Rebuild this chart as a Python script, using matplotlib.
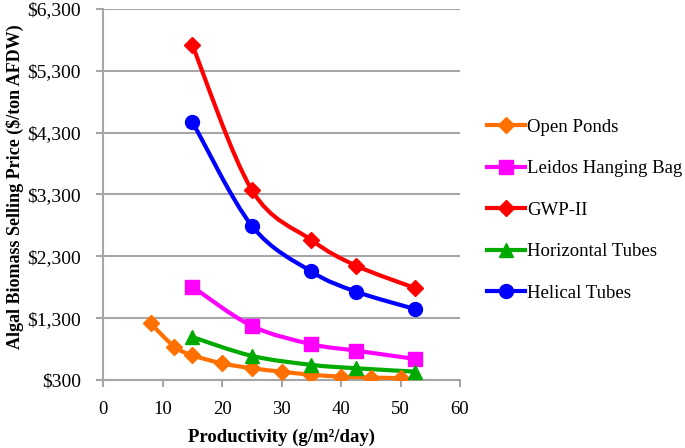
import numpy as np
import matplotlib
matplotlib.use("Agg")
import matplotlib.pyplot as plt
from matplotlib.path import Path
from matplotlib.patches import PathPatch
from matplotlib.lines import Line2D
from matplotlib.ticker import FuncFormatter

# Values
open_ponds_x = [8, 12, 15, 20, 25, 30, 35, 40, 45, 50]
open_ponds_y = [1215, 840, 700, 570, 490, 435, 385, 355, 340, 330]

tubes_x = [15, 25, 35, 42.5, 52.5]
leidos_y = [1810, 1175, 880, 775, 640]
gwp_y = [5720, 3375, 2565, 2150, 1785]
horizontal_y = [995, 690, 545, 490, 435]
helical_y = [4480, 2795, 2055, 1730, 1445]

series = [
    ("Open Ponds", open_ponds_x, open_ponds_y, "#FF7000", "D", 8),
    ("Leidos Hanging Bag", tubes_x, leidos_y, "#FF00FF", "s", 10),
    ("GWP-II", tubes_x, gwp_y, "#FF0000", "D", 8),
    ("Horizontal Tubes", tubes_x, horizontal_y, "#00AA00", "^", 10.5),
    ("Helical Tubes", tubes_x, helical_y, "#0000FF", "o", 10),
]

plt.rcParams["font.family"] = ["Liberation Serif", "DejaVu Serif"]
plt.rcParams["font.size"] = 13.5


def smooth_path(xs, ys):
    # Excel-style smoothed line: cubic Bezier segments with Catmull-Rom control points
    pts = np.column_stack([xs, ys]).astype(float)
    verts = [pts[0]]
    codes = [Path.MOVETO]
    n = len(pts)
    for i in range(n - 1):
        p0 = pts[i - 1] if i > 0 else pts[i]
        p1 = pts[i]
        p2 = pts[i + 1]
        p3 = pts[i + 2] if i + 2 < n else pts[i + 1]
        c1 = p1 + (p2 - p0) / 6.0
        c2 = p2 - (p3 - p1) / 6.0
        verts += [c1, c2, p2]
        codes += [Path.CURVE4] * 3
    return Path(verts, codes)


fig = plt.figure(figsize=(6.85, 4.48), dpi=100)
ax = fig.add_axes([103 / 685, 1 - 380 / 448, 357 / 685, 371 / 448])

grey = "#A6A6A6"
handles = []
for name, xs, ys, color, marker, ms in series:
    ax.add_patch(PathPatch(smooth_path(xs, ys), facecolor="none", edgecolor=color,
                           lw=3, zorder=3, capstyle="round", joinstyle="round"))
    ax.plot(xs, ys, linestyle="none", marker=marker, markersize=ms, color=color, zorder=4)
    handles.append(Line2D([], [], color=color, lw=3, marker=marker, markersize=ms))

ax.set_xlim(0, 60)
ax.set_ylim(300, 6300)
ax.set_xticks(range(0, 61, 10))
ax.set_yticks(range(300, 6301, 1000))
ax.yaxis.set_major_formatter(FuncFormatter(lambda v, p: "${:,.0f}".format(v)))
ax.grid(axis="y", color=grey, lw=1.5)
ax.set_axisbelow(True)

for s in ["top", "right"]:
    ax.spines[s].set_visible(False)
for s in ["left", "bottom"]:
    ax.spines[s].set_color(grey)
    ax.spines[s].set_linewidth(1.5)
ax.tick_params(axis="both", color=grey, width=1.5, length=5)
ax.tick_params(axis="y", pad=11, labelsize=14)
ax.tick_params(axis="x", pad=10)

ax.set_xlabel("Productivity (g/m²/day)", fontweight="bold", labelpad=8)
ax.set_ylabel("Algal Biomass Selling Price ($/ton AFDW)", fontweight="bold", fontsize=13)
ax.yaxis.set_label_coords(-0.222, 0.52)

fig.legend(handles, [s[0] for s in series], loc="center left",
           bbox_to_anchor=(487 / 685, 1 - 210 / 448), frameon=False,
           borderpad=0, borderaxespad=0, handlelength=2.0, handletextpad=0.15,
           labelspacing=1.3)

fig.savefig("out.png", dpi=100)
